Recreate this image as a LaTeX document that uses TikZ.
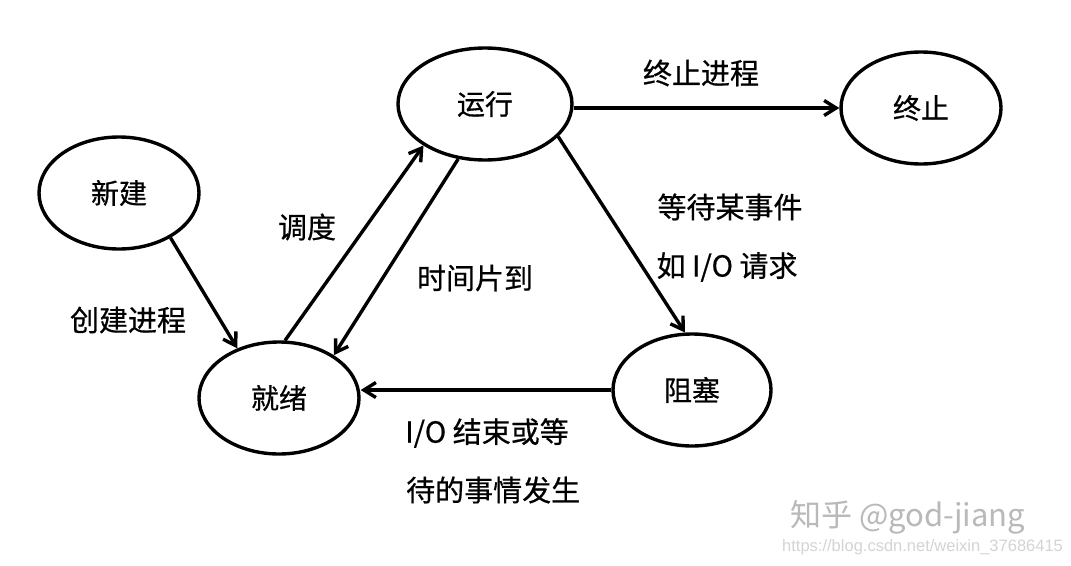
\documentclass[tikz,border=0pt]{standalone}
\usepackage{fontspec}
\setmainfont{Noto Sans CJK SC}[FakeBold=0.6]
\newfontfamily\wmfont{Noto Sans CJK SC}
\newfontfamily\urlfont{Liberation Sans}
\usetikzlibrary{shapes.geometric,arrows.meta}
\definecolor{wm}{RGB}{185,185,185}
\definecolor{wmurl}{RGB}{212,212,212}
\begin{document}
\begin{tikzpicture}[x=1pt,y=-1pt,
  state/.style={draw,ellipse,line width=3.4pt,inner sep=0pt,minimum width=160pt,minimum height=112pt,font=\fontsize{28}{32}\selectfont},
  lbl/.style={font=\fontsize{29}{32}\selectfont,inner sep=0pt},
  arr/.style={line width=3.4pt,-{Straight Barb[length=12pt,width=15pt]}}]
\useasboundingbox[fill=white] (0,0) rectangle (1071,565);
\node[state] (new) at (119,193) {新建};
\node[state,minimum width=174pt] (run) at (485,104) {运行};
\node[state] (term) at (921,108) {终止};
\node[state] (rdy) at (279,398) {就绪};
\node[state,minimum width=158pt] (blk) at (692,390) {阻塞};

\draw[arr] (new.-41.6) -- (rdy.130.5);
\draw[arr] (rdy.84) -- (run.214.4);
\draw[arr] (run.244.5) -- (rdy.38);
\draw[arr] (run.east |- term.west) -- (term.west);
\draw[arr] (run.-24) -- (blk.97);
\draw[arr] (blk.west) -- (rdy.east |- blk.west);

\node[lbl] (l1) at (701,73) {终止进程};
\node[lbl] (l2) at (307,227) {调度};
\node[lbl] (l3) at (475,278) {时间片到};
\node[lbl] (l4) at (128,320) {创建进程};
\node[lbl] (l5) at (730,207) {等待某事件};
\node[lbl] (l6) at (727,267) {如 I/O 请求};
\node[lbl,anchor=west] (l7) at (405,433) {I/O 结束或等};
\node[lbl,anchor=west] (l8) at (406,490) {待的事情发生};

\node[font=\wmfont\fontsize{31}{33}\selectfont,text=wm,inner sep=0pt,anchor=west] (wm1) at (790,517) {知乎 @god-jiang};
\node[font=\urlfont\fontsize{16.5}{18}\selectfont,text=wmurl,inner sep=0pt,anchor=west] (wm2) at (782,547) {https://blog.csdn.net/weixin\_37686415};
\end{tikzpicture}
\end{document}
